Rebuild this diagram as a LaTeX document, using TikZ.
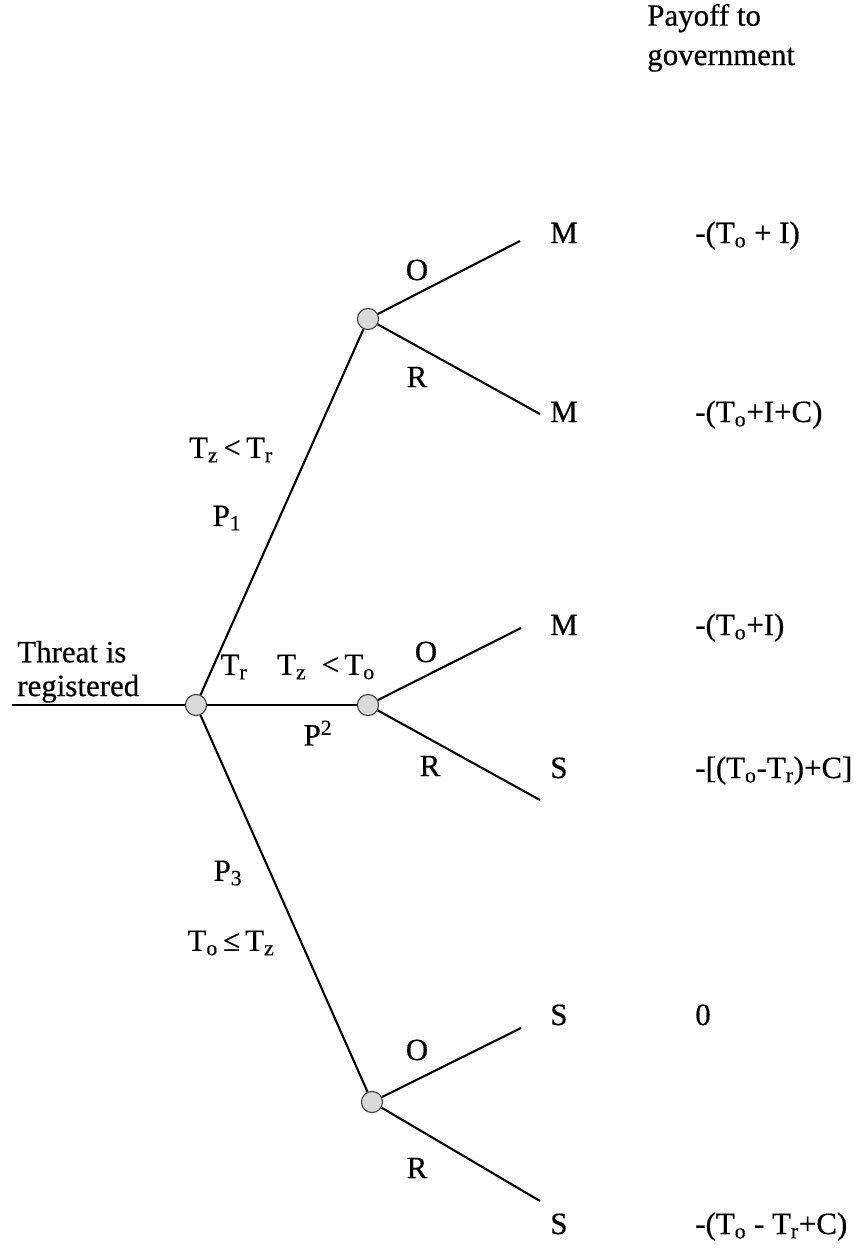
\documentclass[tikz,border=0pt]{standalone}
\usepackage{fontspec}
\setmainfont{Liberation Serif}[FakeBold=0.5]
\usetikzlibrary{positioning}

\newcommand{\sbs}[1]{\textsubscript{#1}}

\begin{document}
\begin{tikzpicture}[x=0.025cm,y=-0.025cm,
    font=\fontsize{22}{27}\selectfont,
    chance/.style={circle,draw=black!75,fill=black!15,line width=0.8pt,minimum size=15pt,inner sep=0pt},
    branch/.style={line width=1.5pt},
    lbl/.style={inner sep=0pt}]
  \useasboundingbox (0,0) rectangle (858,1250);
  % chance nodes of the tree
  \node[chance] (root) at (196,705) {};
  \node[chance] (up) at (368,319) {};
  \node[chance] (mid) at (368,705) {};
  \node[chance] (low) at (372,1102) {};
  % free ends of the branches
  \coordinate (start) at (12,705);
  \coordinate (upO) at (520,241);
  \coordinate (upR) at (540,414);
  \coordinate (midO) at (521,628);
  \coordinate (midR) at (540,800);
  \coordinate (lowO) at (521,1028);
  \coordinate (lowR) at (540,1201);
  % branches
  \draw[branch] (start) -- (root);
  \draw[branch] (root) -- (up);
  \draw[branch] (root) -- (mid);
  \draw[branch] (root) -- (low);
  \foreach \n in {up,mid,low} {
    \draw[branch] (\n) -- (\n O);
    \draw[branch] (\n) -- (\n R);
  }
  % headings
  \node[lbl,anchor=south west,align=left,font=\fontsize{22}{24}\selectfont] (threat) at (17,703) {Threat is\\registered};
  \node[lbl,anchor=south west,align=left,font=\fontsize{22}{28}\selectfont] (payhead) at (647,72) {Payoff to\\government};
  % branch labels
  \node[lbl] (cz1) at (231,450) {T\sbs{z}\,<\,T\sbs{r}};
  \node[lbl] (p1) at (227,518) {P\sbs{1}};
  \node[lbl] (tr) at (234,667) {T\sbs{r}};
  \node[lbl] (cz2) at (326,667) {T\sbs{z}~~<\,T\sbs{o}};
  \node[lbl] (p2) at (318,733) {P\textsuperscript{2}};
  \node[lbl] (p3) at (228,873) {P\sbs{3}};
  \node[lbl] (cz3) at (231,943) {T\sbs{o}\,≤\,T\sbs{z}};
  \node[lbl] (oup) at (417,270) {O};
  \node[lbl] (rup) at (417,377) {R};
  \node[lbl] (omid) at (426,652) {O};
  \node[lbl] (rmid) at (430,766) {R};
  \node[lbl] (olow) at (417,1050) {O};
  \node[lbl] (rlow) at (417,1168) {R};
  % outcomes and payoffs
  \foreach \i/\y/\res/\pay in {1/243/M/{-(T\sbs{o} + I)},
      2/422/M/{-(T\sbs{o}+I+C)},
      3/635/M/{-(T\sbs{o}+I)},
      4/778/S/{-[(T\sbs{o}-T\sbs{r})+C]},
      5/1025/S/{0},
      6/1234/S/{-(T\sbs{o} - T\sbs{r}+C)}} {
    \node[lbl,anchor=base west] (res\i) at (550,\y) {\res};
    \node[lbl,anchor=base west] (pay\i) at (695,\y) {\pay};
  }
\end{tikzpicture}
\end{document}
